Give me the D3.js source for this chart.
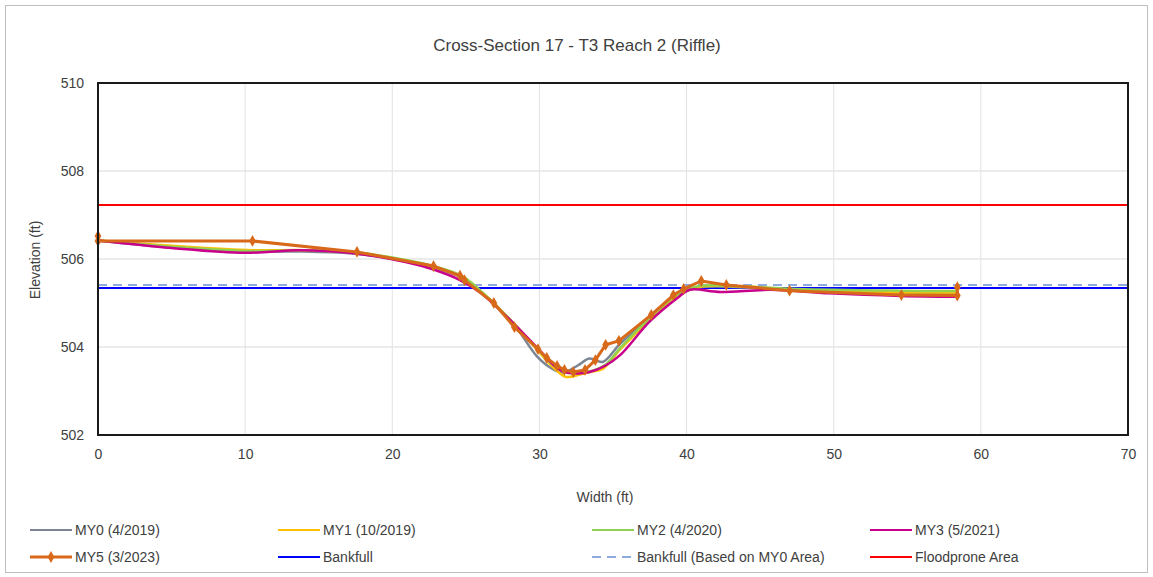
<!DOCTYPE html>
<html>
<head>
<meta charset="utf-8">
<script src="https://cdn.jsdelivr.net/npm/d3@7"></script>
<style>
  body { margin: 0; background: #fff; }
  text { font-family: "Liberation Sans", Arial, sans-serif; fill: #404040; }
</style>
</head>
<body>
<script>
// survey data (station ft, elevation ft)
var my0X = [0, 5, 10.5, 14, 17.6, 20.9, 22.8, 24.8, 26.5, 28.3, 29.8, 30.8, 31.6, 32.6, 33.4, 34.3, 35.5, 37.5, 39.3, 40.8, 43.5, 47.5, 54.6, 58.4];
var my0Y = [506.42, 506.26, 506.17, 506.17, 506.12, 505.95, 505.8, 505.56, 505.1, 504.5, 503.8, 503.52, 503.42, 503.58, 503.74, 503.66, 504.08, 504.65, 505.15, 505.35, 505.36, 505.28, 505.22, 505.22];

var my1X = [0, 5, 10.5, 14, 17.6, 20.9, 22.8, 24.8, 26.5, 28.3, 29.9, 30.9, 31.8, 32.8, 33.6, 34.3, 35.5, 37.5, 39.3, 40.8, 43.5, 47.5, 54.6, 58.4];
var my1Y = [506.42, 506.3, 506.2, 506.2, 506.14, 505.96, 505.82, 505.58, 505.12, 504.52, 503.92, 503.55, 503.32, 503.38, 503.44, 503.5, 503.95, 504.62, 505.16, 505.36, 505.38, 505.3, 505.24, 505.24];

var my2X = [0, 5, 10.5, 14, 17.6, 20.9, 22.8, 24.8, 26.5, 28.3, 29.9, 30.9, 31.8, 32.8, 33.6, 34.5, 35.5, 37.5, 39.3, 40.8, 43.5, 47.5, 54.6, 58.4];
var my2Y = [506.42, 506.28, 506.18, 506.2, 506.15, 505.98, 505.84, 505.6, 505.12, 504.52, 503.94, 503.6, 503.42, 503.42, 503.46, 503.6, 503.98, 504.66, 505.18, 505.38, 505.38, 505.32, 505.28, 505.27];

var my3X = [0, 5, 10, 13.7, 17.1, 20.9, 22.8, 24.6, 26, 28.2, 30, 31.1, 31.7, 32.6, 33.4, 34.5, 35.5, 37.5, 39.4, 40.2, 42.3, 45.7, 49.7, 54.6, 58.4];
var my3Y = [506.42, 506.25, 506.14, 506.2, 506.14, 505.93, 505.76, 505.52, 505.23, 504.55, 503.93, 503.55, 503.43, 503.4, 503.43, 503.58, 503.82, 504.58, 505.12, 505.3, 505.25, 505.3, 505.22, 505.16, 505.14];

var my5X = [0, 0, 10.5, 17.6, 22.8, 24.6, 24.9, 26.9, 28.3, 29.9, 30.5, 31.2, 31.7, 32.3, 33.1, 33.8, 34.5, 35.4, 37.6, 39.1, 39.8, 41.0, 42.7, 47.0, 54.6, 58.4, 58.4];
var my5Y = [506.52, 506.41, 506.41, 506.16, 505.84, 505.62, 505.52, 505.0, 504.45, 503.95, 503.75, 503.57, 503.48, 503.43, 503.48, 503.7, 504.05, 504.14, 504.73, 505.18, 505.32, 505.5, 505.41, 505.28, 505.18, 505.17, 505.36];

var bankfull = 505.34;
var bankfullMY0 = 505.41;
var floodprone = 507.23;

var xTicks = [0, 10, 20, 30, 40, 50, 60, 70];
var yTicks = [502, 504, 506, 508, 510];

var seriesNames = ["MY0 (4/2019)", "MY1 (10/2019)", "MY2 (4/2020)", "MY3 (5/2021)", "MY5 (3/2023)"];
var seriesColors = ["#7b8593", "#ffc000", "#92d050", "#c8008c", "#d8691a"];

var W = 1153, H = 577;
var margin = { top: 83, right: 25, bottom: 142, left: 98 };
var cw = W - margin.left - margin.right;
var ch = H - margin.top - margin.bottom;

var svg = d3.select("body").append("svg")
  .attr("width", W)
  .attr("height", H);

// outer chart border
svg.append("rect")
  .attr("x", 5.5).attr("y", 5.5)
  .attr("width", W - 11).attr("height", H - 10)
  .attr("fill", "#fff")
  .attr("stroke", "#bfbfbf");

var x = d3.scaleLinear().domain([0, 70]).range([0, cw]);
var y = d3.scaleLinear().domain([502, 510]).range([ch, 0]);

var g = svg.append("g")
  .attr("transform", `translate(${margin.left}, ${margin.top})`);

// gridlines
g.append("g").selectAll("line.h")
  .data(yTicks)
  .enter().append("line")
  .attr("x1", 0).attr("x2", cw)
  .attr("y1", d => y(d)).attr("y2", d => y(d))
  .attr("stroke", "#d9d9d9");
g.append("g").selectAll("line.v")
  .data(xTicks)
  .enter().append("line")
  .attr("x1", d => x(d)).attr("x2", d => x(d))
  .attr("y1", 0).attr("y2", ch)
  .attr("stroke", "#e3e3e3");

// axes (labels only)
var xAxis = g.append("g")
  .attr("transform", `translate(0, ${ch})`)
  .call(d3.axisBottom(x).tickValues(xTicks).tickSize(0).tickPadding(14));
var yAxis = g.append("g")
  .call(d3.axisLeft(y).tickValues(yTicks).tickSize(0).tickPadding(14));
[xAxis, yAxis].forEach(function (a) {
  a.select(".domain").remove();
  a.selectAll("text")
    .style("font-size", "14px")
    .style("font-family", "Liberation Sans, Arial, sans-serif")
    .attr("fill", "#404040");
});

// reference lines
function hline(val, color, dash, w) {
  g.append("line")
    .attr("x1", x(0)).attr("x2", x(70))
    .attr("y1", y(val)).attr("y2", y(val))
    .attr("stroke", color)
    .attr("stroke-width", w)
    .attr("stroke-dasharray", dash);
}
hline(floodprone, "#ff0000", null, 2);
hline(bankfullMY0, "#8faadc", "9,6", 2);
hline(bankfull, "#0000ff", null, 2);

// survey lines
var smooth = d3.line()
  .x(d => x(d[0]))
  .y(d => y(d[1]))
  .curve(d3.curveCatmullRom.alpha(0.5));
var straight = d3.line()
  .x(d => x(d[0]))
  .y(d => y(d[1]));

var allX = [my0X, my1X, my2X, my3X, my5X];
var allY = [my0Y, my1Y, my2Y, my3Y, my5Y];
allX.forEach(function (xs, i) {
  var pts = xs.map((v, j) => [v, allY[i][j]]);
  g.append("path")
    .datum(pts)
    .attr("fill", "none")
    .attr("stroke", seriesColors[i])
    .attr("stroke-width", i == 4 ? 3 : 2.5)
    .attr("stroke-linejoin", "round")
    .attr("d", i == 4 ? straight : smooth);
});

var diamond = d3.symbol().type(d3.symbolDiamond).size(40);
g.append("g").selectAll("path")
  .data(my5X.map((v, j) => [v, my5Y[j]]))
  .enter().append("path")
  .attr("d", diamond)
  .attr("transform", d => `translate(${x(d[0])}, ${y(d[1])})`)
  .attr("fill", seriesColors[4]);

// plot frame
g.append("rect")
  .attr("width", cw).attr("height", ch)
  .attr("fill", "none")
  .attr("stroke", "#1a1a1a")
  .attr("stroke-width", 2);

// titles
svg.append("text")
  .attr("x", 577).attr("y", 51)
  .attr("text-anchor", "middle")
  .style("font-size", "17px")
  .text("Cross-Section 17 - T3 Reach 2 (Riffle)");

svg.append("text")
  .attr("x", 605).attr("y", 502)
  .attr("text-anchor", "middle")
  .style("font-size", "14px")
  .text("Width (ft)");

svg.append("text")
  .attr("transform", "rotate(-90)")
  .attr("x", -260).attr("y", 40)
  .attr("text-anchor", "middle")
  .style("font-size", "14px")
  .text("Elevation (ft)");

// legend
var legendItems = [
  { name: seriesNames[0], color: seriesColors[0], col: 0, row: 0 },
  { name: seriesNames[1], color: seriesColors[1], col: 1, row: 0 },
  { name: seriesNames[2], color: seriesColors[2], col: 2, row: 0 },
  { name: seriesNames[3], color: seriesColors[3], col: 3, row: 0 },
  { name: seriesNames[4], color: seriesColors[4], col: 0, row: 1, marker: true },
  { name: "Bankfull", color: "#0000ff", col: 1, row: 1 },
  { name: "Bankfull (Based on MY0 Area)", color: "#8faadc", col: 2, row: 1, dash: "9,6" },
  { name: "Floodprone Area", color: "#ff0000", col: 3, row: 1 }
];
var colX = [30, 278, 592, 870];
var rowY = [530, 557];

var lg = svg.append("g").selectAll("g")
  .data(legendItems)
  .enter().append("g")
  .attr("transform", d => `translate(${colX[d.col]}, ${rowY[d.row]})`);
lg.append("line")
  .attr("x1", 0).attr("x2", 42)
  .attr("stroke", d => d.color)
  .attr("stroke-width", d => d.marker ? 3 : 2)
  .attr("stroke-dasharray", d => d.dash || null);
lg.filter(d => d.marker).append("path")
  .attr("d", diamond)
  .attr("transform", "translate(21, 0)")
  .attr("fill", d => d.color);
lg.append("text")
  .attr("x", 45).attr("dy", "0.35em")
  .style("font-size", "14px")
  .text(d => d.name);
</script>
</body>
</html>
